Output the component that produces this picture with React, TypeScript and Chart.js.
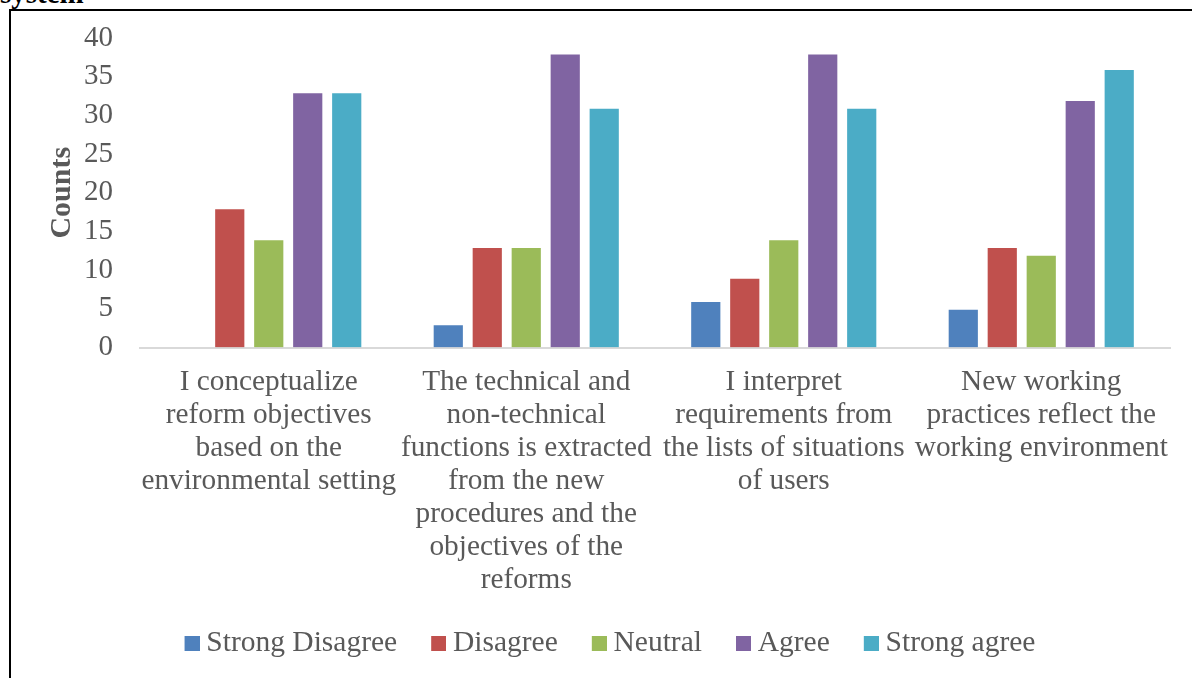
import React, { useEffect, useRef } from "react";
import { Chart, registerables } from "chart.js";

Chart.register(...registerables);

// Survey statements (one wrapped label per category)
const categories: string[][] = [
  ["I conceptualize", "reform objectives", "based on the", "environmental setting"],
  [
    "The technical and",
    "non-technical",
    "functions is extracted",
    "from the new",
    "procedures and the",
    "objectives of the",
    "reforms",
  ],
  ["I interpret", "requirements from", "the lists of situations", "of users"],
  ["New working", "practices reflect the", "working environment"],
];

// Response counts per statement
const strongDisagree = [0, 3, 6, 5];
const disagree = [18, 13, 9, 13];
const neutral = [14, 13, 14, 12];
const agree = [33, 38, 38, 32];
const strongAgree = [33, 31, 31, 36];

const seriesNames = ["Strong Disagree", "Disagree", "Neutral", "Agree", "Strong agree"];
const seriesColors = ["#4f81bd", "#c0504d", "#9bbb59", "#8064a2", "#4bacc6"];

const yMin = 0;
const yMax = 40;
const yStep = 5;

const SERIF = "'Liberation Serif', 'Times New Roman', serif";
const TEXT_GREY = "#595959";

// Square legend swatch placed at the right of its canvas, so the label
// text sits close beside it.
function makeSwatch(color: string): HTMLCanvasElement {
  const c = document.createElement("canvas");
  c.width = 33;
  c.height = 15;
  const ctx = c.getContext("2d");
  if (ctx) {
    ctx.fillStyle = color;
    ctx.fillRect(18, 0, 15, 15);
  }
  return c;
}

export default function App() {
  const canvasRef = useRef<HTMLCanvasElement | null>(null);

  useEffect(() => {
    const canvas = canvasRef.current;
    if (!canvas) return;
    const seriesValues = [strongDisagree, disagree, neutral, agree, strongAgree];
    const swatches = seriesColors.map(makeSwatch);

    const chart = new Chart(canvas, {
      type: "bar",
      data: {
        labels: categories,
        datasets: seriesNames.map((name, i) => ({
          label: name,
          data: seriesValues[i],
          backgroundColor: seriesColors[i],
          borderColor: "rgba(255,255,255,0.25)",
          borderWidth: 1,
          borderSkipped: "start",
          categoryPercentage: 0.757,
          barPercentage: 0.8,
        })),
      },
      options: {
        responsive: false,
        animation: false,
        devicePixelRatio: 1,
        layout: { padding: { left: 40, right: 22, top: 38, bottom: 32 } },
        plugins: {
          tooltip: { enabled: false },
          legend: {
            position: "bottom",
            align: "center",
            labels: {
              usePointStyle: true,
              pointStyleWidth: 17,
              boxHeight: 15,
              padding: 24,
              color: TEXT_GREY,
              font: { family: SERIF, size: 29.5 },
              generateLabels: (c: any) =>
                Chart.defaults.plugins.legend.labels
                  .generateLabels(c)
                  .map((item: any, i: number) => ({ ...item, pointStyle: swatches[i] })),
            },
          },
        },
        scales: {
          x: {
            grid: { display: false, drawTicks: false },
            border: { display: true, color: "#d9d9d9", width: 2 },
            ticks: {
              color: TEXT_GREY,
              padding: 18,
              maxRotation: 0,
              minRotation: 0,
              autoSkip: false,
              font: { family: SERIF, size: 29.3, lineHeight: 1.126 },
            },
            afterFit: (scale: any) => {
              scale.height = 257;
            },
          },
          y: {
            min: yMin,
            max: yMax,
            grid: { display: false, drawTicks: true, tickLength: 27 },
            border: { display: false },
            ticks: {
              stepSize: yStep,
              autoSkip: false,
              color: TEXT_GREY,
              padding: 0,
              font: { family: SERIF, size: 29 },
            },
            title: {
              display: true,
              text: "Counts",
              color: TEXT_GREY,
              padding: { top: 4, bottom: 0 },
              font: { family: SERIF, size: 30, weight: "bold" },
            },
            afterFit: (scale: any) => {
              scale.width = 100;
            },
          },
        },
      },
    });

    return () => chart.destroy();
  }, []);

  return (
    <div
      style={{
        position: "fixed",
        left: 0,
        top: 0,
        width: 1192,
        height: 678,
        overflow: "hidden",
        background: "#ffffff",
      }}
    >
      <div
        style={{
          position: "absolute",
          left: 0,
          top: -21,
          fontFamily: SERIF,
          fontWeight: "bold",
          fontSize: 29,
          lineHeight: "29px",
          color: "#000",
          whiteSpace: "nowrap",
        }}
      >
        system
      </div>
      <div
        style={{
          position: "absolute",
          left: 9,
          top: 9,
          width: 1300,
          height: 800,
          borderLeft: "2px solid #000",
          borderTop: "2px solid #000",
        }}
      />
      <canvas
        ref={canvasRef}
        width={1192}
        height={700}
        style={{ position: "absolute", left: 0, top: 0, width: 1192, height: 700 }}
      />
    </div>
  );
}
